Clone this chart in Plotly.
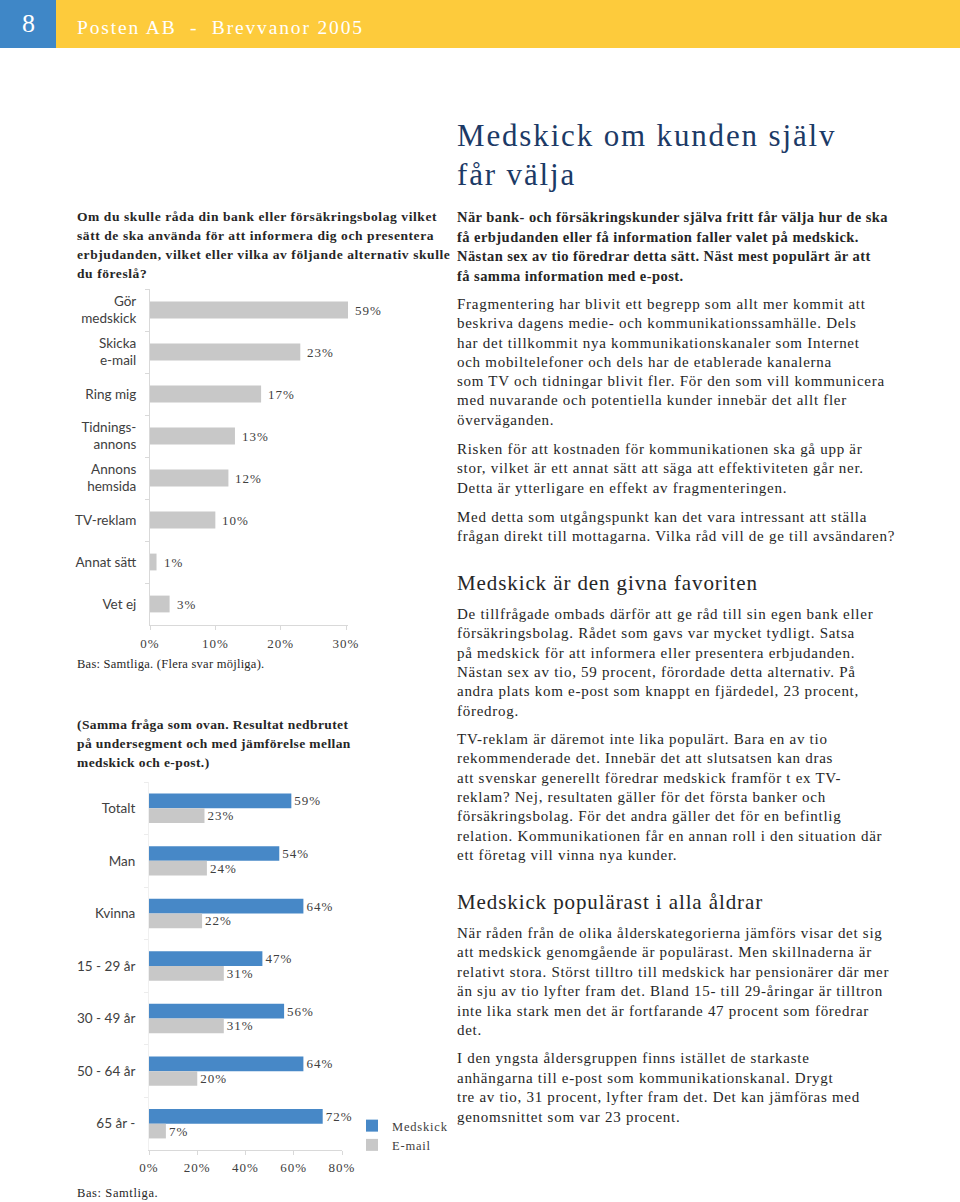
import plotly.graph_objects as go

W, H = 960, 1202

# ---------------- Data ----------------
c1_categories = ["Gör<br>medskick", "Skicka<br>e-mail", "Ring mig", "Tidnings-<br>annons",
                 "Annons<br>hemsida", "TV-reklam", "Annat sätt", "Vet ej"]
c1_values = [59, 23, 17, 13, 12, 10, 1, 3]
c1_ticks = [0, 10, 20, 30]
c1_ticklabels = ["0%", "10%", "20%", "30%"]

c2_categories = ["Totalt", "Man", "Kvinna", "15 - 29 år", "30 - 49 år", "50 - 64 år", "65 år -"]
c2_medskick = [59, 54, 64, 47, 56, 64, 72]
c2_email = [23, 24, 22, 31, 31, 20, 7]
c2_ticks = [0, 20, 40, 60, 80]
c2_ticklabels = ["0%", "20%", "40%", "60%", "80%"]

# ---------------- Styles ----------------
SERIF = "Liberation Serif, Times New Roman, serif"
SANS = "Lato, Noto Sans, sans-serif"
GRAY_BAR = "#c8c8c8"
BLUE_BAR = "#4788c7"
TXT = "#262626"
LBL = "#404040"
AXIS = "#d9d9d9"
C1_MAX = 30.3


def sp(t, ls):
    return f'<span style="letter-spacing:{ls}px">{t}</span>'


def px_x(px):
    return px / W


def px_y(py):
    return 1 - py / H


fig = go.Figure()

# Chart 1
fig.add_trace(go.Bar(
    x=c1_values, y=c1_categories, orientation="h",
    marker=dict(color=GRAY_BAR, line=dict(width=0)),
    width=0.4, showlegend=False, hoverinfo="x+y",
    xaxis="x", yaxis="y",
))

# Chart 2
fig.add_trace(go.Bar(
    x=c2_medskick, y=c2_categories, orientation="h", name=sp("Medskick", 0.8),
    marker=dict(color=BLUE_BAR, line=dict(width=0)),
    width=0.28, offset=-0.28,
    text=[sp(f"{v}%", 1) for v in c2_medskick], textposition="outside",
    textfont=dict(family=SERIF, size=13, color=LBL),
    constraintext="none", cliponaxis=False,
    xaxis="x2", yaxis="y2",
))
fig.add_trace(go.Bar(
    x=c2_email, y=c2_categories, orientation="h", name=sp("E-mail", 0.8),
    marker=dict(color=GRAY_BAR, line=dict(width=0)),
    width=0.28, offset=0.0,
    text=[sp(f"{v}%", 1) for v in c2_email], textposition="outside",
    textfont=dict(family=SERIF, size=13, color=LBL),
    constraintext="none", cliponaxis=False,
    xaxis="x2", yaxis="y2",
))

annotations = []

# Chart 1 value labels (bars longer than the axis are cut at the axis end)
for cat, v in zip(c1_categories, c1_values):
    annotations.append(dict(
        x=min(v, C1_MAX), y=cat, xref="x", yref="y", text=sp(f"{v}%", 1),
        showarrow=False, xanchor="left", xshift=5,
        font=dict(family=SERIF, size=13, color=LBL),
    ))


def add_lines(lines, x, y0, dy, size, ls=0.0, color=TXT, bold=False, family=SERIF):
    for i, t in enumerate(lines):
        txt = sp(t, ls)
        if bold:
            txt = f"<b>{txt}</b>"
        annotations.append(dict(
            x=px_x(x), y=px_y(y0 + i * dy), xref="paper", yref="paper",
            text=txt, showarrow=False, xanchor="left", yanchor="middle",
            xshift=-1, font=dict(family=family, size=size, color=color),
        ))


# Header texts
annotations.append(dict(x=px_x(28), y=px_y(24), xref="paper", yref="paper", text="8",
                        showarrow=False, xanchor="center", yanchor="middle",
                        font=dict(family=SERIF, size=26, color="white")))
add_lines(["Posten AB  -  Brevvanor 2005"], 76, 28, 0, 19.5, ls=1.85, color="white")

# Right column
add_lines(["Medskick om kunden själv", "får välja"], 456, 135, 40, 31, ls=1.85, color="#1c3a66")
add_lines([
    "När bank- och försäkringskunder själva fritt får välja hur de ska",
    "få erbjudanden eller få information faller valet på medskick.",
    "Nästan sex av tio föredrar detta sätt. Näst mest populärt är att",
    "få samma information med e-post.",
], 456, 217, 19.6, 14.5, ls=0.45, bold=True)
add_lines([
    "Fragmentering har blivit ett begrepp som allt mer kommit att",
    "beskriva dagens medie- och kommunikationssamhälle. Dels",
    "har det tillkommit nya kommunikationskanaler som Internet",
    "och mobiltelefoner och dels har de etablerade kanalerna",
    "som TV och tidningar blivit fler. För den som vill kommunicera",
    "med nuvarande och potentiella kunder innebär det allt fler",
    "överväganden.",
], 456, 304, 19.3, 15, ls=0.72)
add_lines([
    "Risken för att kostnaden för kommunikationen ska gå upp är",
    "stor, vilket är ett annat sätt att säga att effektiviteten går ner.",
    "Detta är ytterligare en effekt av fragmenteringen.",
], 456, 449, 19.4, 15, ls=0.72)
add_lines([
    "Med detta som utgångspunkt kan det vara intressant att ställa",
    "frågan direkt till mottagarna. Vilka råd vill de ge till avsändaren?",
], 456, 517, 19.4, 15, ls=0.72)
add_lines(["Medskick är den givna favoriten"], 456, 583, 0, 21, ls=0.9)
add_lines([
    "De tillfrågade ombads därför att ge råd till sin egen bank eller",
    "försäkringsbolag. Rådet som gavs var mycket tydligt. Satsa",
    "på medskick för att informera eller presentera erbjudanden.",
    "Nästan sex av tio, 59 procent, förordade detta alternativ. På",
    "andra plats kom e-post som knappt en fjärdedel, 23 procent,",
    "föredrog.",
], 456, 614, 19.3, 15, ls=0.72)
add_lines([
    "TV-reklam är däremot inte lika populärt. Bara en av tio",
    "rekommenderade det. Innebär det att slutsatsen kan dras",
    "att svenskar generellt föredrar medskick framför t ex TV-",
    "reklam? Nej, resultaten gäller för det första banker och",
    "försäkringsbolag. För det andra gäller det för en befintlig",
    "relation. Kommunikationen får en annan roll i den situation där",
    "ett företag vill vinna nya kunder.",
], 456, 739, 19.3, 15, ls=0.72)
add_lines(["Medskick populärast i alla åldrar"], 456, 902, 0, 21, ls=0.9)
add_lines([
    "När råden från de olika ålderskategorierna jämförs visar det sig",
    "att medskick genomgående är populärast. Men skillnaderna är",
    "relativt stora. Störst tilltro till medskick har pensionärer där mer",
    "än sju av tio lyfter fram det. Bland 15- till 29-åringar är tilltron",
    "inte lika stark men det är fortfarande 47 procent som föredrar",
    "det.",
], 456, 933, 19.4, 15, ls=0.72)
add_lines([
    "I den yngsta åldersgruppen finns istället de starkaste",
    "anhängarna till e-post som kommunikationskanal. Drygt",
    "tre av tio, 31 procent, lyfter fram det. Det kan jämföras med",
    "genomsnittet som var 23 procent.",
], 456, 1058, 19.5, 15, ls=0.72)

# Left column texts
add_lines([
    "Om du skulle råda din bank eller försäkringsbolag vilket",
    "sätt de ska använda för att informera dig och presentera",
    "erbjudanden, vilket eller vilka av följande alternativ skulle",
    "du föreslå?",
], 76, 216, 19.1, 13.5, ls=0.58, bold=True)
add_lines(["Bas: Samtliga. (Flera svar möjliga)."], 76, 664, 0, 12.5, ls=0.25)
add_lines([
    "(Samma fråga som ovan. Resultat nedbrutet",
    "på undersegment och med jämförelse mellan",
    "medskick och e-post.)",
], 76, 724, 19.4, 13.5, ls=0.4, bold=True)
add_lines(["Bas: Samtliga."], 76, 1193, 0, 12.5, ls=0.6)

shapes = [
    dict(type="rect", xref="paper", yref="paper", x0=0, x1=px_x(56), y0=px_y(48), y1=1,
         fillcolor="#3f87c7", line=dict(width=0), layer="below"),
    dict(type="rect", xref="paper", yref="paper", x0=px_x(56), x1=1, y0=px_y(48), y1=1,
         fillcolor="#fdcb3c", line=dict(width=0), layer="below"),
]

fig.update_layout(
    width=W, height=H,
    margin=dict(l=0, r=0, t=0, b=0, pad=0, autoexpand=False),
    paper_bgcolor="white", plot_bgcolor="white",
    barmode="group",
    annotations=annotations, shapes=shapes,
    xaxis=dict(domain=[px_x(150), px_x(348)], range=[0, C1_MAX], automargin=False,
               tickvals=c1_ticks, ticktext=[sp(t, 1) for t in c1_ticklabels],
               showgrid=False, zeroline=False, showline=True, linecolor=AXIS, linewidth=1,
               ticks="outside", ticklen=4, tickcolor=AXIS, ticklabelstandoff=2,
               tickfont=dict(family=SERIF, size=13, color=LBL), fixedrange=True),
    yaxis=dict(domain=[px_y(625), px_y(289)], anchor="x", autorange="reversed",
               type="category", tickson="boundaries", automargin=False,
               showgrid=False, zeroline=False, showline=True, linecolor=AXIS, linewidth=1,
               ticks="outside", ticklen=4, tickcolor=AXIS, ticklabelstandoff=10,
               tickfont=dict(family=SANS, size=13.5, color=LBL), fixedrange=True),
    xaxis2=dict(domain=[px_x(149), px_x(342)], range=[0, 80], anchor="y2", automargin=False,
                tickvals=c2_ticks, ticktext=[sp(t, 1) for t in c2_ticklabels],
                showgrid=False, zeroline=False, showline=True, linecolor=AXIS, linewidth=1,
                ticks="outside", ticklen=4, tickcolor=AXIS, ticklabelstandoff=1,
                tickfont=dict(family=SERIF, size=13, color=LBL), fixedrange=True),
    yaxis2=dict(domain=[px_y(1150), px_y(782)], anchor="x2", autorange="reversed",
                type="category", tickson="boundaries", automargin=False,
                showgrid=False, zeroline=False, showline=True, linecolor="#f0f0f0", linewidth=1,
                ticks="outside", ticklen=4, tickcolor="#ececec", ticklabelstandoff=10,
                tickfont=dict(family=SANS, size=13.5, color=LBL), fixedrange=True),
    legend=dict(x=px_x(352), y=px_y(1111), xanchor="left", yanchor="top",
                font=dict(family=SERIF, size=12.5, color=LBL),
                bgcolor="rgba(0,0,0,0)", itemwidth=30, tracegroupgap=0),
    showlegend=True,
)

fig.write_html(
    "out.html",
    config={"displayModeBar": False},
    post_script=("document.body.style.margin='0px';"
                 "document.body.style.overflow='hidden';"
                 "document.documentElement.style.overflow='hidden';"),
)
